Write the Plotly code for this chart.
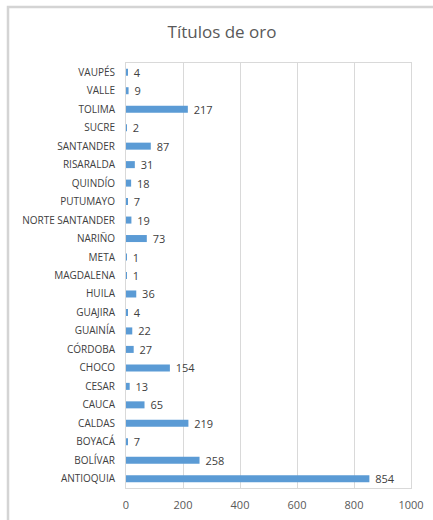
import plotly.graph_objects as go

# Títulos de oro por departamento (de abajo hacia arriba)
departamentos = [
    "ANTIOQUIA", "BOLÍVAR", "BOYACÁ", "CALDAS", "CAUCA", "CESAR", "CHOCO",
    "CÓRDOBA", "GUAINÍA", "GUAJIRA", "HUILA", "MAGDALENA", "META", "NARIÑO",
    "NORTE SANTANDER", "PUTUMAYO", "QUINDÍO", "RISARALDA", "SANTANDER",
    "SUCRE", "TOLIMA", "VALLE", "VAUPÉS",
]
titulos = [
    854, 258, 7, 219, 65, 13, 154,
    27, 22, 4, 36, 1, 1, 73,
    19, 7, 18, 31, 87,
    2, 217, 9, 4,
]
x_ticks = [0, 200, 400, 600, 800, 1000]

W, H = 433, 520
L, R, T, B = 126, 22, 63, 32

def px_x(x):
    return (x - L) / (W - L - R)

def px_y(y):
    return (H - B - y) / (H - T - B)

fig = go.Figure(
    go.Bar(
        y=departamentos,
        x=titulos,
        orientation="h",
        marker=dict(color="#5B9BD5", line=dict(width=0)),
        text=[str(v) for v in titulos],
        texttemplate=" %{text}",
        textposition="outside",
        constraintext="none",
        cliponaxis=False,
        textfont=dict(size=11, color="#404040"),
        hoverinfo="skip",
    )
)

fig.update_layout(
    width=W,
    height=H,
    margin=dict(l=L, r=R, t=T, b=B, autoexpand=False),
    paper_bgcolor="white",
    plot_bgcolor="white",
    font=dict(family="Open Sans", color="#404040"),
    bargap=0.62,
    showlegend=False,
    uniformtext=dict(mode=False),
    title=dict(
        text="Títulos de oro",
        x=px_x(222),
        xref="paper",
        xanchor="center",
        y=1 - 32 / H,
        yanchor="middle",
        font=dict(size=17, color="#595959"),
    ),
    xaxis=dict(
        range=[0, 1000],
        tickvals=x_ticks,
        ticktext=[str(v) for v in x_ticks],
        showgrid=True,
        gridcolor="#D9D9D9",
        gridwidth=1,
        zeroline=False,
        showline=True,
        linecolor="#D9D9D9",
        linewidth=1,
        mirror=True,
        ticks="",
        ticklabelstandoff=7,
        automargin=False,
        tickfont=dict(size=11, color="#595959"),
        fixedrange=True,
    ),
    yaxis=dict(
        categoryorder="array",
        categoryarray=departamentos,
        showgrid=False,
        zeroline=False,
        showline=True,
        linecolor="#D9D9D9",
        linewidth=1,
        mirror=True,
        ticks="",
        ticklabelstandoff=8,
        automargin=False,
        tickfont=dict(size=10, color="#404040"),
        fixedrange=True,
    ),
    shapes=[
        dict(
            type="path",
            xref="paper",
            yref="paper",
            path=f"M {px_x(8)} {px_y(H + 5)} L {px_x(8)} {px_y(7)} L {px_x(W + 5)} {px_y(7)}",
            line=dict(color="#D4D4D4", width=2.5),
            layer="above",
        )
    ],
)

fig.write_html("out.html")
